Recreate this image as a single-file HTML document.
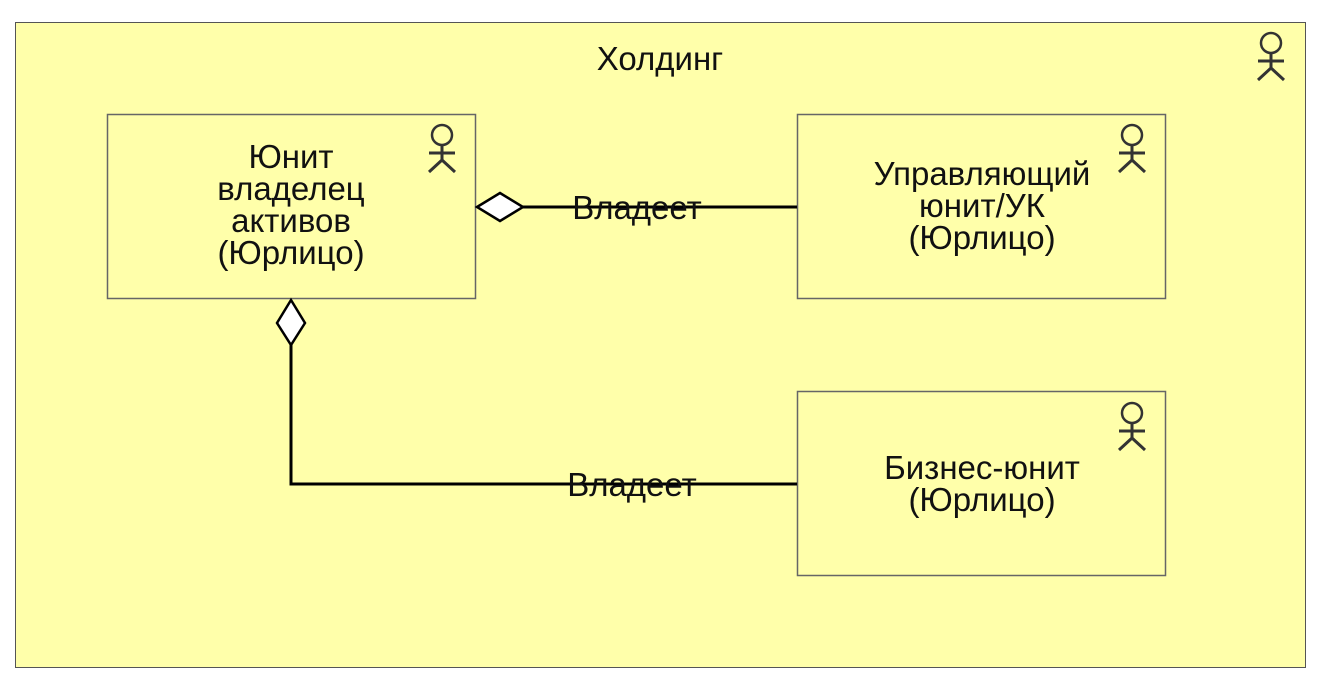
<!DOCTYPE html>
<html><head><meta charset="utf-8"><style>
html,body{margin:0;padding:0;background:#fff;}
svg{display:block;}
text{font-family:"Liberation Sans",sans-serif;font-size:33px;fill:#111;text-anchor:middle;}
</style></head><body>
<svg width="1320" height="690" viewBox="0 0 1320 690">
<defs>
<g id="actor" stroke="#333" stroke-width="3" fill="none">
<circle cx="0" cy="0" r="10" stroke-width="2.5"/>
<line x1="0" y1="10" x2="0" y2="26"/>
<line x1="-13" y1="18" x2="13" y2="18"/>
<line x1="-13" y1="37" x2="0" y2="25"/>
<line x1="13" y1="37" x2="0" y2="25"/>
</g>
</defs>
<rect x="15.5" y="22.5" width="1290" height="645" fill="#ffffaa" stroke="#555" stroke-width="1"/>
<text x="660" y="70">Холдинг</text>
<use href="#actor" x="1271" y="43"/>

<rect x="107.5" y="114.5" width="368" height="184" fill="#ffffaa" stroke="#666" stroke-width="1.5"/>
<use href="#actor" x="442" y="135"/>
<text x="291" y="168">Юнит</text>
<text x="291" y="200">владелец</text>
<text x="291" y="232">активов</text>
<text x="291" y="264">(Юрлицо)</text>

<rect x="797.5" y="114.5" width="368" height="184" fill="#ffffaa" stroke="#666" stroke-width="1.5"/>
<use href="#actor" x="1132" y="135"/>
<text x="982" y="185">Управляющий</text>
<text x="982" y="217">юнит/УК</text>
<text x="982" y="249">(Юрлицо)</text>

<rect x="797.5" y="391.5" width="368" height="184" fill="#ffffaa" stroke="#666" stroke-width="1.5"/>
<use href="#actor" x="1132" y="413"/>
<text x="982" y="479">Бизнес-юнит</text>
<text x="982" y="511">(Юрлицо)</text>

<line x1="522" y1="207" x2="797" y2="207" stroke="#000" stroke-width="3"/>
<polygon points="477,207 500,193 523,207 500,221" fill="#fff" stroke="#000" stroke-width="2.5"/>
<text x="637" y="219">Владеет</text>

<polyline points="291,345 291,484 797,484" fill="none" stroke="#000" stroke-width="3"/>
<polygon points="291,300 305,323 291,345 277,323" fill="#fff" stroke="#000" stroke-width="2.5"/>
<text x="632" y="496">Владеет</text>
</svg>
</body></html>
